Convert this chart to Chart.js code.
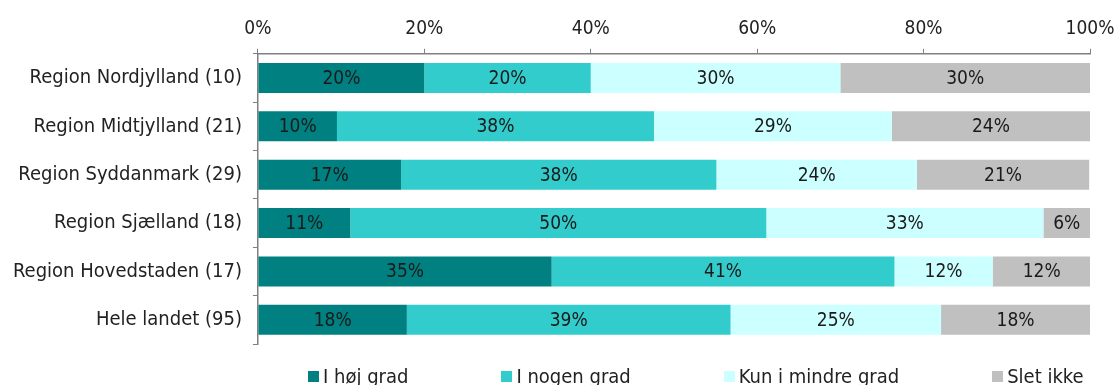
<!DOCTYPE html>
<html>
<head>
<meta charset="utf-8">
<script src="https://cdn.jsdelivr.net/npm/chart.js@4/dist/chart.umd.min.js"></script>
<style>
  body { margin: 0; background: #fff; }
  #wrap { width: 1117px; height: 385px; position: relative; overflow: hidden; }
  #box { width: 1117px; height: 367px; }
  #legend { position: absolute; left: 308px; top: 364px; display: flex; gap: 93px;
            font-family: "DejaVu Sans Condensed", "DejaVu Sans", sans-serif; font-size: 20px; color: #222; line-height: 24px; }
  #legend span.item { display: flex; align-items: center; }
  #legend i { display: inline-block; width: 11px; height: 11px; margin-right: 4px; }
</style>
</head>
<body>
<div id="wrap">
  <div id="box"><canvas id="grafico"></canvas></div>
  <div id="legend"></div>
</div>
<script>
// Regioner (antal svar i parentes)
const regioner = ['Region Nordjylland (10)', 'Region Midtjylland (21)', 'Region Syddanmark (29)',
                  'Region Sjælland (18)', 'Region Hovedstaden (17)', 'Hele landet (95)'];
const serier = ['I høj grad', 'I nogen grad', 'Kun i mindre grad', 'Slet ikke'];
// andele i procent
const hoejGrad = [20, 9.5, 17.2, 11.1, 35.3, 17.9];
const nogenGrad = [20, 38.1, 37.9, 50, 41.2, 38.9];
const mindreGrad = [30, 28.6, 24.1, 33.3, 11.8, 25.3];
const sletIkke = [30, 23.8, 20.7, 5.6, 11.8, 17.9];
const farver = ['#008080', '#33CCCC', '#CCFFFF', '#C0C0C0'];
const xTicks = [0, 20, 40, 60, 80, 100];

const fnt = '"DejaVu Sans Condensed", "DejaVu Sans", sans-serif';
const data = [hoejGrad, nogenGrad, mindreGrad, sletIkke];

// tekst midt i hver bar
const barLabels = {
    id: 'barLabels',
    afterDatasetsDraw(chart) {
        const ctx = chart.ctx;
        ctx.save();
        ctx.font = '19px ' + fnt;
        ctx.fillStyle = '#1a1a1a';
        ctx.textAlign = 'center';
        ctx.textBaseline = 'middle';
        chart.data.datasets.forEach(function(ds, i) {
            chart.getDatasetMeta(i).data.forEach(function(bar, j) {
                const p = bar.getCenterPoint();
                ctx.fillText(Math.round(ds.data[j]) + '%', p.x, p.y + 1);
            });
        });
        ctx.restore();
    }
};

const ctx = document.getElementById('grafico').getContext('2d');
new Chart(ctx, {
    type: 'bar',
    data: {
        labels: regioner,
        datasets: serier.map(function(s, i) {
            return {
                label: s,
                data: data[i],
                backgroundColor: farver[i],
                barPercentage: 0.62,
                categoryPercentage: 1
            };
        })
    },
    options: {
        indexAxis: 'y',
        responsive: true,
        maintainAspectRatio: false,
        animation: false,
        layout: { padding: { top: 10, right: 27, bottom: 2, left: 2 } },
        plugins: { legend: { display: false }, tooltip: { enabled: false } },
        scales: {
            x: {
                position: 'top',
                stacked: true,
                min: 0, max: 100,
                afterBuildTicks: function(ax) { ax.ticks = xTicks.map(v => ({ value: v })); },
                afterFit: function(ax) { ax.paddingRight = 0; ax.paddingLeft = 0; },
                ticks: { callback: v => v + '%', font: { family: fnt, size: 19 }, color: '#222', padding: 8, maxRotation: 0 },
                grid: { drawOnChartArea: false, tickLength: 5, color: '#808080' },
                border: { color: '#808080', width: 1.5 }
            },
            y: {
                stacked: true,
                ticks: { font: { family: fnt, size: 20 }, color: '#222', padding: 11 },
                grid: { drawOnChartArea: false, tickLength: 5, color: '#808080', offset: true },
                border: { color: '#808080', width: 1.5 }
            }
        }
    },
    plugins: [barLabels]
});

// legende
const leg = document.getElementById('legend');
serier.forEach(function(s, i) {
    leg.innerHTML += '<span class="item"><i style="background:' + farver[i] + '"></i>' + s + '</span>';
});
</script>
</body>
</html>
